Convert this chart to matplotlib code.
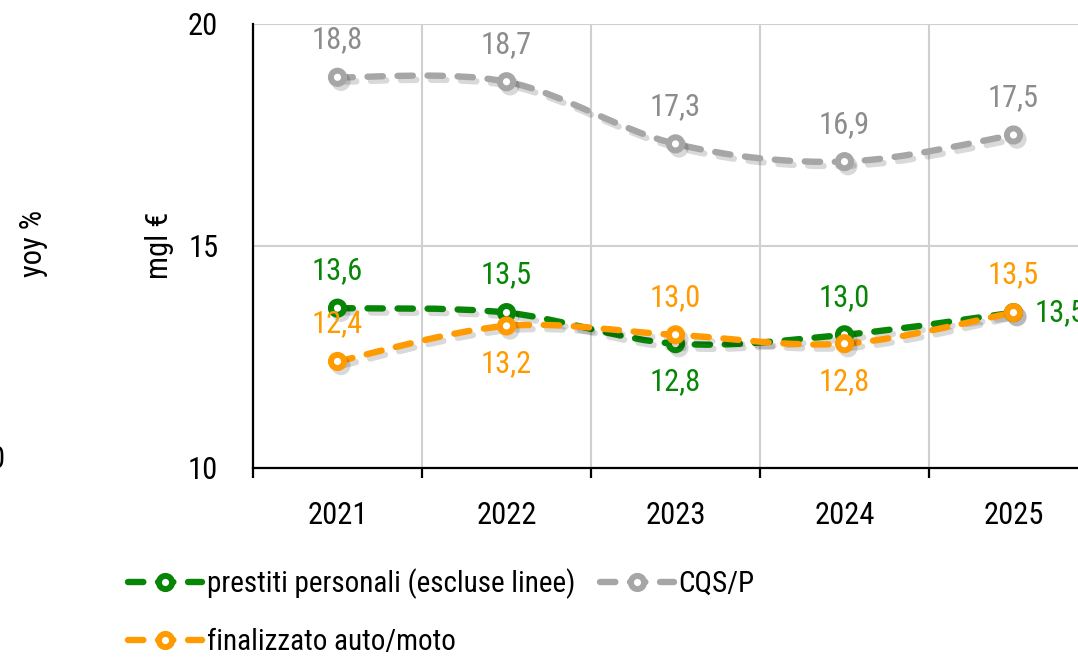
import matplotlib
matplotlib.use("Agg")
import matplotlib.pyplot as plt
from matplotlib.path import Path
from matplotlib.patches import PathPatch
from matplotlib.lines import Line2D
from matplotlib import font_manager
import matplotlib.patheffects as pe
import numpy as np

# pick a condensed font if available
fam, stretch = 'DejaVu Sans', 'normal'
ents = font_manager.fontManager.ttflist
names_avail = {f.name for f in ents}
for cand in ['Liberation Sans Narrow', 'Roboto Condensed', 'Open Sans Condensed',
             'Noto Sans Condensed', 'DejaVu Sans Condensed']:
    if cand in names_avail:
        fam, stretch = cand, 'normal'
        break
else:
    for cand in ['Roboto', 'Noto Sans', 'Open Sans', 'DejaVu Sans']:
        cond = [f for f in ents if f.name == cand and
                (str(f.stretch) in ('condensed', 'semi-condensed', 'extra-condensed') or
                 (isinstance(f.stretch, int) and f.stretch < 500))]
        if cond:
            fam, stretch = cand, 'condensed'
            break
plt.rcParams['font.family'] = [fam, 'DejaVu Sans']
plt.rcParams['font.stretch'] = stretch

years = ["2021", "2022", "2023", "2024", "2025"]
prestiti = [13.6, 13.5, 12.8, 13.0, 13.5]
cqs = [18.8, 18.7, 17.3, 16.9, 17.5]
finalizzato = [12.4, 13.2, 13.0, 12.8, 13.5]

names = ["prestiti personali (escluse linee)", "CQS/P", "finalizzato auto/moto"]
GREEN = "#078507"
ORANGE = "#FF9A00"
GRAY = "#A6A6A6"
GRAY_TXT = "#8C8C8C"

W, H = 1078, 662
fig = plt.figure(figsize=(W / 100, H / 100), dpi=100)
ax = fig.add_axes([253 / W, 1 - 468 / H, (1098 - 253) / W, (468 - 24) / H])

x = np.arange(len(years))
ax.set_xlim(-0.5, len(years) - 0.5)
ax.set_ylim(10, 20)

FS = 22
LW = 4.6
MS = 9.5
MEW = 4.3
DASH = (0, (2.4, 2.3))
shadow = [pe.SimpleLineShadow(offset=(2.5, -3), shadow_color='k', alpha=0.15), pe.Normal()]


def smooth_path(xs, ys):
    pts = np.column_stack([xs, ys]).astype(float)
    n = len(pts)
    verts = [pts[0]]
    codes = [Path.MOVETO]
    for i in range(n - 1):
        p_prev = pts[max(i - 1, 0)]
        p0 = pts[i]
        p1 = pts[i + 1]
        p_next = pts[min(i + 2, n - 1)]
        c1 = p0 + (p1 - p_prev) / 6.0
        c2 = p1 - (p_next - p0) / 6.0
        verts += [c1, c2, p1]
        codes += [Path.CURVE4] * 3
    return Path(verts, codes)


def draw_series(vals, color):
    patch = PathPatch(smooth_path(x, vals), fill=False, edgecolor=color, lw=LW,
                      linestyle=DASH, capstyle='round', joinstyle='round', zorder=3)
    patch.set_path_effects(shadow)
    ax.add_patch(patch)
    ax.plot(x, vals, linestyle='none', marker='o', ms=MS, mfc='white', mec=color,
            mew=MEW, zorder=4, path_effects=shadow)


draw_series(cqs, GRAY)
draw_series(prestiti, GREEN)
draw_series(finalizzato, ORANGE)


def lab(v):
    return f"{v:.1f}".replace(".", ",")


def annotate(xi, v, color, dx, dy, ha='center'):
    ax.annotate(lab(v), (xi, v), xytext=(dx, dy), textcoords='offset points',
                ha=ha, va='center', color=color, fontsize=FS, zorder=5,
                annotation_clip=False)


UP = 27
for i, v in enumerate(cqs):
    annotate(i, v, GRAY_TXT, 0, UP)
g_pos = ['up', 'up', 'down', 'up', 'right']
for i, (v, p) in enumerate(zip(prestiti, g_pos)):
    if p == 'up':
        annotate(i, v, GREEN, 0, UP)
    elif p == 'down':
        annotate(i, v, GREEN, 0, -UP)
    else:
        annotate(i, v, GREEN, 15, 0, ha='left')
o_pos = ['up', 'down', 'up', 'down', 'up']
for i, (v, p) in enumerate(zip(finalizzato, o_pos)):
    annotate(i, v, ORANGE, 0, UP if p == 'up' else -UP)

for s in ['top', 'right']:
    ax.spines[s].set_visible(False)
for s in ['left', 'bottom']:
    ax.spines[s].set_color('black')
    ax.spines[s].set_linewidth(1.6)

ax.set_yticks([10, 15, 20])
ax.set_yticklabels(["10", "15", "20"])
ax.tick_params(axis='y', length=0, pad=25, labelsize=FS)

ax.set_xticks(np.arange(-0.5, len(years)), minor=False)
ax.set_xticklabels([])
ax.set_xticks(x, minor=True)
ax.set_xticklabels(years, minor=True)
ax.tick_params(axis='x', which='major', length=7.5, width=1.6, direction='out', color='black')
ax.tick_params(axis='x', which='minor', length=0, pad=24, labelsize=FS)

ax.grid(True, axis='both', which='major', color='#D0D0D0', lw=1.5, zorder=0)
ax.set_axisbelow(True)

fig.text(33 / W, 1 - 243 / H, "yoy %", rotation=90, ha='center', va='center', fontsize=FS)
fig.text(160 / W, 1 - 245 / H, "mgl €", rotation=90, ha='center', va='center', fontsize=FS)
fig.text(-3 / W, 1 - 460 / H, "0", ha='center', va='center', fontsize=FS)


def proxy(color):
    return Line2D([], [], color=color, lw=LW, linestyle=DASH, dash_capstyle='round',
                  marker='o', ms=MS, mfc='white', mec=color, mew=MEW)


handles = [proxy(GREEN), proxy(ORANGE), proxy(GRAY)]
labels = [names[0], names[2], names[1]]
fig.legend(handles, labels, ncol=2, loc='upper left',
           bbox_to_anchor=(128 / W, 1 - 568 / H), frameon=False, fontsize=21,
           handlelength=2.55, handletextpad=0.15, columnspacing=0.85,
           labelspacing=1.0, borderpad=0, borderaxespad=0)

fig.savefig("out.png", dpi=100)
